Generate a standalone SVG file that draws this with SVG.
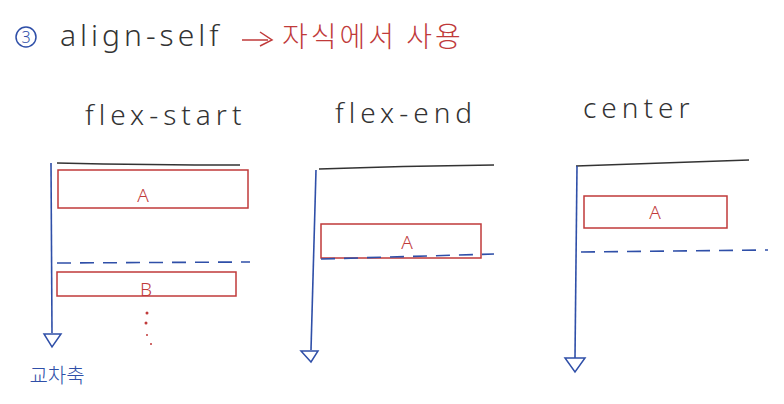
<svg xmlns="http://www.w3.org/2000/svg" width="784" height="404" viewBox="0 0 784 404">
<defs>
<style>
.t{font-family:"Noto Sans","Liberation Sans","Noto Sans CJK KR",sans-serif;font-weight:300;fill:#333}
.kr{font-family:"Noto Sans CJK KR","Noto Sans",sans-serif;font-weight:300}
.top{stroke:#333;stroke-width:1.6;fill:none}
.axis{stroke:#2f4fa8;stroke-width:1.6;fill:none}
.head{stroke:#2f4fa8;stroke-width:1.5;fill:#fff}
.box{stroke:#c03a3a;stroke-width:1.5;fill:none}
.dash{stroke:#2f4fa8;stroke-width:1.6;fill:none;stroke-dasharray:14 9}
.lbl{font-family:"Noto Sans","Liberation Sans",sans-serif;font-weight:300;fill:#c03a3a;font-size:19px}
</style>
</defs>
<rect width="784" height="404" fill="#fff"/>
<g id="header">
<circle cx="26" cy="37" r="10" fill="none" stroke="#2f4fa8" stroke-width="1.5"/>
<text x="26" y="43" text-anchor="middle" font-size="16" class="t" style="fill:#2f4fa8">3</text>
<text x="60" y="46" font-size="30" class="t" letter-spacing="4">align-self</text>
<path d="M242 40 L268 40 M260 32 L272 40 L260 46" fill="none" stroke="#c03a3a" stroke-width="1.5"/>
<text x="282" y="47" font-size="28" class="kr" fill="#c03a3a" letter-spacing="3">자식에서 사용</text>
</g>
<g id="titles">
<text x="85" y="125" font-size="28" class="t" letter-spacing="5">flex-start</text>
<text x="335" y="123" font-size="28" class="t" letter-spacing="5">flex-end</text>
<text x="583" y="118" font-size="28" class="t" letter-spacing="5">center</text>
</g>
<g id="panel-flex-start">
<path class="top" d="M57 163 Q150 165 240 165"/>
<rect id="item-a1" x="58" y="170" width="190" height="38" class="box"/>
<text x="143" y="202" text-anchor="middle" class="lbl">A</text>
<path class="dash" d="M57 263 L250 262"/>
<rect id="item-b" x="57" y="272" width="179" height="24" class="box"/>
<text x="146" y="296" text-anchor="middle" class="lbl">B</text>
<g fill="#c03a3a"><circle cx="147" cy="313" r="1.5"/><circle cx="146" cy="323" r="1.5"/><circle cx="147" cy="335" r="1"/><circle cx="151" cy="344" r="1"/></g>
<text x="57" y="383" text-anchor="middle" font-size="20" class="kr" fill="#2f4fa8">교차축</text>
</g>
<g id="panel-flex-end">
<path class="top" d="M319 169 Q400 166 494 165"/>
<rect id="item-a2" x="321" y="224" width="160" height="34" class="box"/>
<text x="407" y="249" text-anchor="middle" class="lbl">A</text>
<path class="dash" d="M321 259 L494 254"/>
</g>
<g id="panel-center">
<path class="top" d="M576 166 Q660 163 749 160"/>
<rect id="item-a3" x="584" y="196" width="143" height="32" class="box"/>
<text x="655" y="219" text-anchor="middle" class="lbl">A</text>
<path class="dash" d="M581 252 L768 250"/>
</g>
<g id="connectors">
<path class="axis" d="M51 163 L52 333"/>
<path class="head" d="M44 334 L61 334 L52 347 Z"/>
<path class="axis" d="M316 170 L311 350"/>
<path class="head" d="M301 351 L318 351 L311 362 Z"/>
<path class="axis" d="M577 166 L575 358"/>
<path class="head" d="M565 358 L585 358 L575 372 Z"/>
</g>
</svg>
